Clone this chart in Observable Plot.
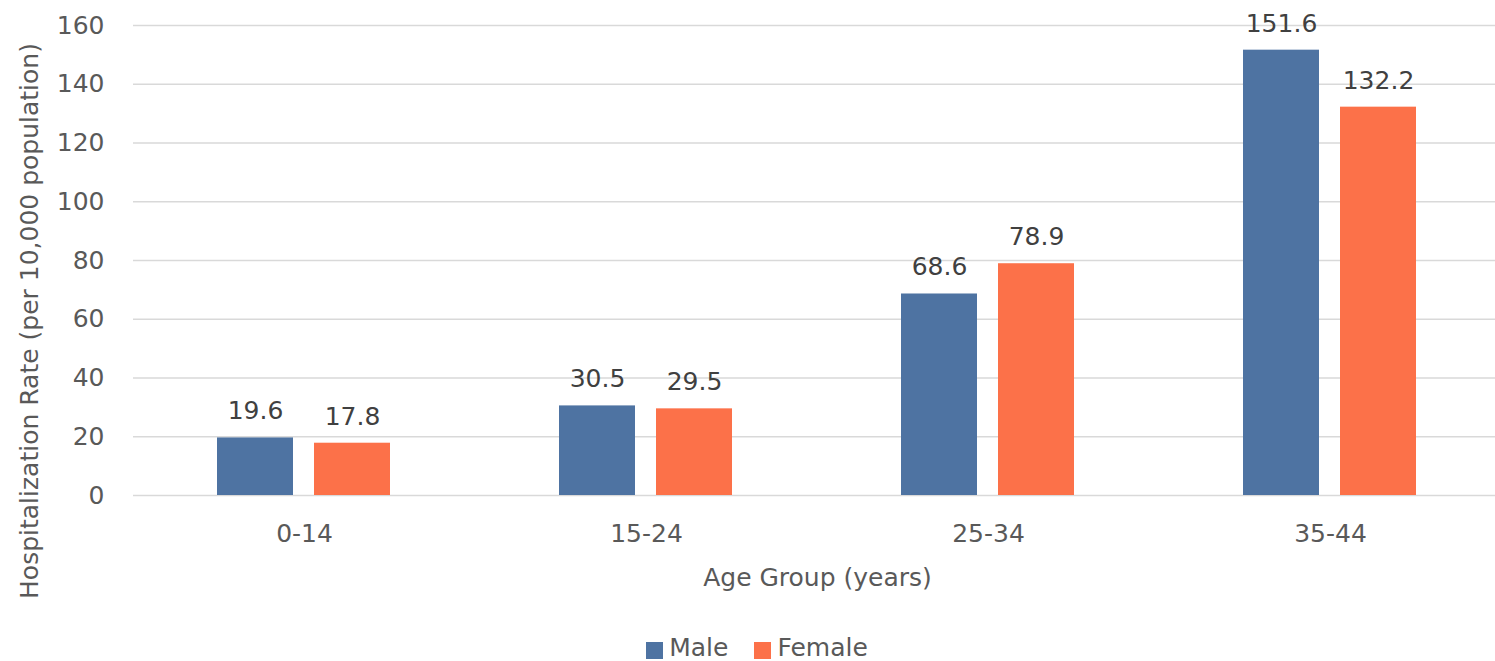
<!DOCTYPE html>
<html>
<head>
<meta charset="utf-8">
<script src="https://cdn.jsdelivr.net/npm/d3@7"></script>
<script src="https://cdn.jsdelivr.net/npm/@observablehq/plot@0.6"></script>
<style>
  html, body { margin: 0; padding: 0; background: #fff; }
  body { width: 1495px; height: 661px; overflow: hidden; font-family: "DejaVu Sans", sans-serif; color: #595959; }
  #legend { height: 25px; line-height: 25px; margin-top: 15px; display: flex; justify-content: center; align-items: center; padding-left: 19px; box-sizing: border-box; width: 1495px; font-size: 25px; }
  .item { display: flex; align-items: center; margin: 0 13px; }
  .sw { width: 17px; height: 17px; margin-right: 6px; position: relative; top: 3px; }
</style>
</head>
<body>
<div id="chart"></div>
<div id="legend"></div>
<script>
const ageGroups = ["0-14", "15-24", "25-34", "35-44"];
const sexes = ["Male", "Female"];
const maleValues = [19.6, 30.5, 68.6, 151.6];
const femaleValues = [17.8, 29.5, 78.9, 132.2];
const yTicks = [0, 20, 40, 60, 80, 100, 120, 140, 160];
const colors = ["#4E73A2", "#FC7149"];
const xTitle = "Age Group (years)";
const yTitle = "Hospitalization Rate (per 10,000 population)";

const data = ageGroups.flatMap((g, i) => [
  {group: g, sex: sexes[0], value: maleValues[i]},
  {group: g, sex: sexes[1], value: femaleValues[i]}
]);

const font = "DejaVu Sans, sans-serif";

const chart = Plot.plot({
  width: 1495,
  height: 620,
  marginLeft: 132,
  marginRight: 0,
  marginTop: 25,
  marginBottom: 125,
  style: {fontFamily: font, fontSize: "25px", color: "#595959", background: "#fff", overflow: "visible"},
  fx: {domain: ageGroups, padding: 0, range: [132, 1502], label: null},
  x: {domain: sexes, paddingInner: 0.2143, paddingOuter: 0.8546, axis: null},
  y: {domain: [0, 160], label: null},
  color: {domain: sexes, range: colors},
  marks: [
    Plot.gridY(yTicks, {stroke: "#d9d9d9", strokeOpacity: 1, strokeWidth: 1.5}),
    Plot.axisY(yTicks, {tickSize: 0, tickPadding: 29, label: null, fontSize: 25, fill: "#595959"}),
    Plot.axisFx({anchor: "bottom", tickSize: 0, tickPadding: 29, label: xTitle, labelAnchor: "center", labelOffset: 90, fontSize: 25, fill: "#595959"}),
    Plot.barY(data, {fx: "group", x: "sex", y: "value", fill: "sex"}),
    Plot.text(data, {fx: "group", x: "sex", y: "value", text: d => d.value.toFixed(1), lineAnchor: "bottom", dy: -18.5, fontSize: 25, fill: "#404040"})
  ]
});

document.getElementById("chart").appendChild(chart);

// Y axis title
d3.select(chart).append("text")
  .attr("transform", "translate(38,321) rotate(-90)")
  .attr("text-anchor", "middle")
  .attr("fill", "#595959")
  .attr("font-family", font)
  .attr("font-size", 25)
  .text(yTitle);

// Legend
const legend = d3.select("#legend");
sexes.forEach((s, i) => {
  const item = legend.append("div").attr("class", "item");
  item.append("div").attr("class", "sw").style("background", colors[i]);
  item.append("span").text(s);
});
</script>
</body>
</html>
